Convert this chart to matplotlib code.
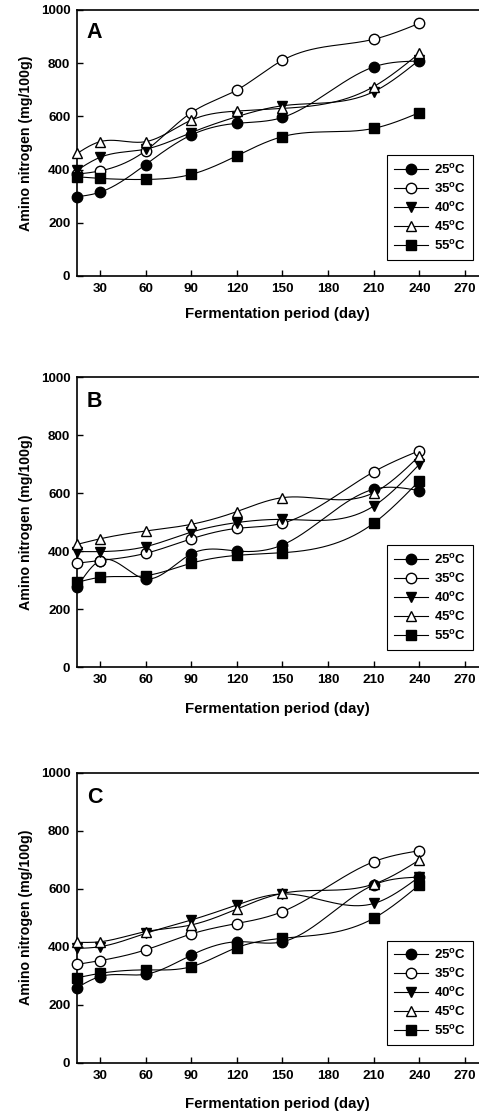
import numpy as np
import matplotlib
matplotlib.use("Agg")
import matplotlib.pyplot as plt

plt.rcParams['font.family'] = ['Liberation Sans', 'DejaVu Sans']
plt.rcParams['font.weight'] = 'bold'
plt.rcParams['mathtext.fontset'] = 'custom'
plt.rcParams['mathtext.rm'] = 'Liberation Sans:bold'
plt.rcParams['mathtext.bf'] = 'Liberation Sans:bold'
plt.rcParams['mathtext.it'] = 'Liberation Sans:bold'

days = [15, 30, 60, 90, 120, 150, 210, 240]
labels = ['25', '35', '40', '45', '55']
xticks = [30, 60, 90, 120, 150, 180, 210, 240, 270]
yticks = [0, 200, 400, 600, 800, 1000]

a25 = [298, 315, 419, 530, 574, 596, 786, 808]
a35 = [383, 395, 471, 614, 699, 811, 890, 950]
a40 = [398, 446, 477, 539, 599, 640, 693, 812]
a45 = [461, 505, 505, 586, 620, 630, 712, 837]
a55 = [373, 367, 363, 382, 452, 524, 555, 614]

b25 = [278, 368, 305, 391, 401, 422, 614, 609]
b35 = [359, 368, 393, 443, 479, 497, 674, 747]
b40 = [399, 399, 416, 466, 499, 510, 556, 700]
b45 = [424, 443, 470, 493, 537, 585, 602, 729]
b55 = [293, 310, 316, 359, 386, 395, 497, 643]

c25 = [259, 297, 305, 371, 417, 417, 613, 640]
c35 = [339, 352, 389, 444, 480, 521, 693, 731]
c40 = [394, 400, 446, 492, 544, 582, 549, 641]
c45 = [415, 417, 452, 475, 530, 584, 616, 699]
c55 = [293, 308, 320, 331, 397, 429, 498, 613]

panels = [('A', [a25, a35, a40, a45, a55]),
          ('B', [b25, b35, b40, b45, b55]),
          ('C', [c25, c35, c40, c45, c55])]

styles = [dict(marker='o', mfc='black'),
          dict(marker='o', mfc='white'),
          dict(marker='v', mfc='black'),
          dict(marker='^', mfc='white'),
          dict(marker='s', mfc='black')]


def natural_spline(x, y, n=400):
    x = np.asarray(x, float)
    y = np.asarray(y, float)
    k = len(x)
    h = np.diff(x)
    A = np.zeros((k, k))
    r = np.zeros(k)
    A[0, 0] = 1
    A[-1, -1] = 1
    for i in range(1, k - 1):
        A[i, i - 1] = h[i - 1]
        A[i, i] = 2 * (h[i - 1] + h[i])
        A[i, i + 1] = h[i]
        r[i] = 6 * ((y[i + 1] - y[i]) / h[i] - (y[i] - y[i - 1]) / h[i - 1])
    M = np.linalg.solve(A, r)
    xs = np.linspace(x[0], x[-1], n)
    idx = np.clip(np.searchsorted(x, xs) - 1, 0, k - 2)
    x0, x1 = x[idx], x[idx + 1]
    hh = x1 - x0
    ys = (M[idx] * (x1 - xs) ** 3 / (6 * hh) + M[idx + 1] * (xs - x0) ** 3 / (6 * hh)
          + (y[idx] / hh - M[idx] * hh / 6) * (x1 - xs)
          + (y[idx + 1] / hh - M[idx + 1] * hh / 6) * (xs - x0))
    return xs, ys


W, H = 479, 1115
fig = plt.figure(figsize=(W / 100, H / 100), dpi=100)

left = 77.2 / W
width = 406 / W
# (top px, bottom px)
boxes = [(10, 276), (377.3, 667.3), (772.7, 1062.7)]

for (letter, series), (tpx, bpx) in zip(panels, boxes):
    ax = fig.add_axes([left, 1 - bpx / H, width, (bpx - tpx) / H])
    for lab, vals, st in zip(labels, series, styles):
        xs, ys = natural_spline(days, vals)
        ax.plot(xs, ys, color='black', lw=0.8, zorder=2)
        ax.plot(days, vals, ls='none', marker=st['marker'], mfc=st['mfc'],
                mec='black', mew=1.0, ms=7.5, clip_on=False, zorder=3)
    handles = [plt.Line2D([], [], color='black', lw=0.8, marker=st['marker'],
                          mfc=st['mfc'], mec='black', mew=1.0, ms=7.5)
               for st in styles]
    leg = ax.legend(handles, [lab + r'$^{\rm o}$C' for lab in labels],
                    loc='lower right', bbox_to_anchor=(0.975, 0.06),
                    fontsize=9.5, frameon=True, fancybox=False,
                    edgecolor='black', framealpha=1, borderpad=0.55,
                    labelspacing=0.38, handlelength=2.6, handletextpad=0.4,
                    borderaxespad=0)
    leg.get_frame().set_linewidth(0.8)
    ax.set_xlim(15, 282)
    ax.set_ylim(0, 1000)
    ax.set_xticks(xticks)
    ax.set_yticks(yticks)
    ax.tick_params(direction='in', length=4, width=1.0, labelsize=9.7, pad=5)
    for lbl in ax.get_xticklabels() + ax.get_yticklabels():
        lbl.set_fontweight('bold')
    for s in ['left', 'bottom', 'top']:
        ax.spines[s].set_linewidth(1.2)
    ax.spines['right'].set_visible(False)
    ax.set_xlabel('Fermentation period (day)', fontsize=10.8, fontweight='bold')
    ax.set_ylabel('Amino nitrogen (mg/100g)', fontsize=10.2, fontweight='bold')
    ax.xaxis.set_label_coords(0.494, -0.118)
    ax.yaxis.set_label_coords(-0.108, 0.5)
    ax.text(0.024, 0.915, letter, transform=ax.transAxes, fontsize=15.5,
            fontweight='bold', ha='left', va='center')

fig.savefig('out.png', dpi=100)
